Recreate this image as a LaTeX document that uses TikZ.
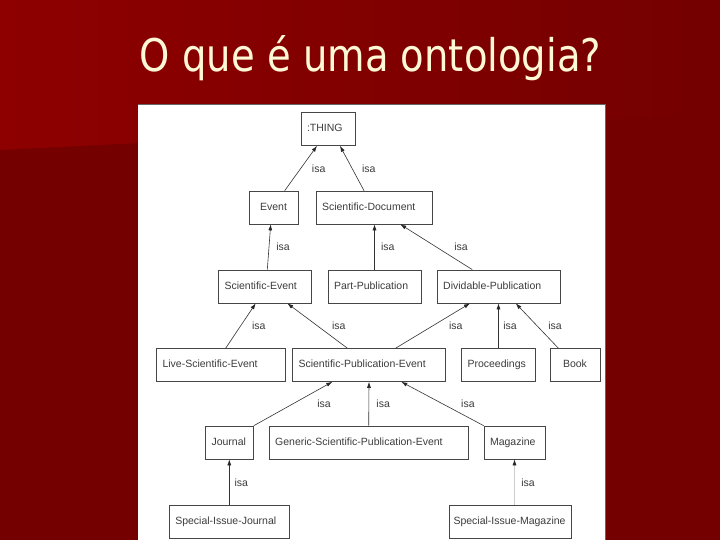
\documentclass[tikz,border=0pt]{standalone}
\usepackage{fontspec}
\usetikzlibrary{arrows.meta}
\newfontfamily\titlefont[FakeStretch=0.856]{DejaVu Sans}
\newfontfamily\boxfont{Liberation Sans}
\definecolor{slidebg}{RGB}{116,0,0}
\definecolor{slidetop}{RGB}{142,0,0}
\definecolor{titletext}{RGB}{255,248,214}
\definecolor{boxline}{RGB}{70,70,70}
\definecolor{boxtext}{RGB}{60,60,60}

\begin{document}
\begin{tikzpicture}[x=1pt, y=-1pt,
  cls/.style={draw=boxline, line width=0.7pt, fill=white, text=boxtext,
    font=\boxfont\fontsize{10.5}{12}\selectfont, minimum height=33pt,
    text height=7.6pt, text depth=2.2pt,
    inner xsep=6pt, inner ysep=0pt, align=left},
  link/.style={draw=black!80, line width=0.6pt, -{Latex[length=6pt,width=4pt,color=black!85]}},
  isa/.style={font=\boxfont\fontsize{10.5}{12}\selectfont, text=boxtext, inner sep=0pt, anchor=west}]
\useasboundingbox (0,0) rectangle (720,540);
\fill[slidebg] (0,0) rectangle (720,540);
\shade[left color=slidetop, right color=slidebg] (0,0) -- (720,0) -- (720,114) -- (0,150) -- cycle;
\node[text=titletext, font=\titlefont\fontsize{45}{54}\selectfont, anchor=base] (title) at (370.5,72) {O que é uma ontologia?};
\fill[white] (138,104) rectangle (605,540);
\draw[black!60, line width=0.6pt] (138,104) -- (605,104) -- (605,540);

\node[cls, text width=42pt] (thing) at (328,129) {:THING};
\node[cls, text width=37pt, align=center] (ev) at (273.5,207.5) {Event};
\node[cls, text width=104pt] (sdoc) at (374,207.5) {Scientific-Document};
\node[cls, text width=81pt] (sev) at (265,286.5) {Scientific-Event};
\node[cls, text width=81pt] (ppub) at (374.5,286.5) {Part-Publication};
\node[cls, text width=111pt] (dpub) at (498.7,286.5) {Dividable-Publication};
\node[cls, text width=117pt] (lsev) at (221,365) {Live-Scientific-Event};
\node[cls, text width=141pt] (spe) at (369,365) {Scientific-Publication-Event};
\node[cls, text width=62pt] (proc) at (498.5,365) {Proceedings};
\node[cls, text width=38pt, align=center] (book) at (575,365) {Book};
\node[cls, text width=36pt] (jour) at (229.5,442.5) {Journal};
\node[cls, text width=187pt] (gspe) at (368.7,442.5) {Generic-Scientific-Publication-Event};
\node[cls, text width=49pt] (mag) at (514.5,442.5) {Magazine};
\node[cls, text width=108pt] (sij) at (229.3,522) {Special-Issue-Journal};
\node[cls, text width=113pt, inner xsep=4.5pt] (sim) at (510,522) {Special-Issue-Magazine};

\draw[link] ([xshift=11.2pt]ev.north) -- node[isa, xshift=10.8pt] {isa} ([xshift=-11pt]thing.south);
\draw[link] ([xshift=-10pt]sdoc.north) -- node[isa, xshift=9.7pt] {isa} ([xshift=12pt]thing.south);
\draw[link] ([xshift=2.3pt]sev.north) -- node[isa, xshift=7pt] {isa} ([xshift=-2.8pt]ev.south);
\draw[link] (ppub.north) -- node[isa, xshift=6.3pt] {isa} (ppub.north |- sdoc.south);
\draw[link] ([xshift=-26.4pt]dpub.north) -- node[isa, xshift=17.7pt] {isa} ([xshift=26.3pt]sdoc.south);
\draw[link] ([xshift=4.7pt]lsev.north) -- node[isa, xshift=11pt] {isa} ([xshift=-9.3pt]sev.south);
\draw[link] ([xshift=-21.7pt]spe.north) -- node[isa, xshift=14.4pt] {isa} ([xshift=22.3pt]sev.south);
\draw[link] ([xshift=26.7pt]spe.north) -- node[isa, xshift=16pt] {isa} ([xshift=-28.7pt]dpub.south);
\draw[link] (proc.north) -- node[isa, xshift=4.5pt] {isa} (proc.north |- dpub.south);
\draw[link] ([xshift=-16.7pt]book.north) -- node[isa, xshift=11pt] {isa} ([xshift=17pt]dpub.south);
\draw[link] (jour.north east) -- node[isa, xshift=24pt] {isa} ([xshift=-36.7pt]spe.south);
\draw[link] (gspe.north) -- node[isa, xshift=7.3pt] {isa} (spe.south);
\draw[link] (mag.north west) -- node[isa, xshift=18.4pt] {isa} ([xshift=32.3pt]spe.south);
\draw[link] (sij.north) -- node[isa, xshift=5pt] {isa} (sij.north |- jour.south);
\draw[link, draw=black!20] ([xshift=4.5pt]sim.north) -- node[isa, xshift=6.5pt] {isa} (mag.south);
\end{tikzpicture}
\end{document}
